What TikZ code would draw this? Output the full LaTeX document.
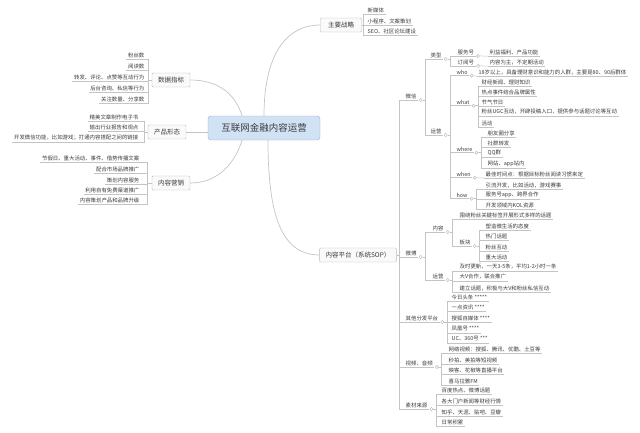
\documentclass[tikz,border=0pt]{standalone}
\usepackage{fontspec}
\setmainfont{Noto Sans CJK SC}
\usepackage{xcolor}
\usepackage{tikz}
\usetikzlibrary{shapes,arrows,positioning}

\definecolor{rootfill}{HTML}{D2E2F5}
\definecolor{rootline}{HTML}{93AED6}
\definecolor{wire}{HTML}{C4C4C4}
\definecolor{ink}{HTML}{3A3A3A}

\begin{document}
\begin{tikzpicture}[
    x=1pt, y=-1pt,
    root/.style={rectangle, draw=rootline, fill=rootfill, rounded corners=3pt, minimum width=112pt, minimum height=24pt, font=\fontsize{9.5}{11}\selectfont, text=ink},
    topic/.style={rectangle, draw=gray!55, fill=gray!4, rounded corners=1pt, minimum height=14pt, inner xsep=6pt, font=\fontsize{6.5}{8}\selectfont, text=ink},
    item/.style={inner xsep=1.5pt, inner ysep=1.3pt, font=\fontsize{5.4}{6}\selectfont, text=ink, append after command={(\tikzlastnode.south west) edge[uline] (\tikzlastnode.south east)}},
    ritem/.style={item, anchor=west},
    litem/.style={item, anchor=east},
    uline/.style={draw=wire, line width=0.5pt},
    knob/.style={circle, draw=gray!60, fill=white, inner sep=0pt, minimum size=3.2pt, line width=0.4pt},
    curve/.style={draw=wire, line width=0.7pt},
    branch/.style={draw=wire, line width=0.5pt}
]
    \useasboundingbox (0,0) rectangle (640,432);

    % Central topic
    \node[root] (root) at (264,128) {互联网金融内容运营};

    % Main strategy
    \node[topic, minimum width=41pt] (strat) at (341,25) {主要战略};
    \node[ritem] (s1) at (366,10) {新媒体};
    \node[ritem] (s2) at (366,21) {小程序、文案策划};
    \node[ritem] (s3) at (366,31) {SEO、社区论坛建设};

    % Data metrics
    \node[topic] (data) at (171,80) {数据指标};
    \node[litem] (d1) at (146,55) {粉丝数};
    \node[litem] (d2) at (146,66) {阅读数};
    \node[litem] (d3) at (146,77) {转发、评论、点赞等互动行为};
    \node[litem] (d4) at (146,88) {后台咨询、私信等行为};
    \node[litem] (d5) at (146,99) {关注数量、分享数};

    % Product form
    \node[topic] (prod) at (167,132) {产品形态};
    \node[litem] (p1) at (140,117) {精美文章制作电子书};
    \node[litem] (p2) at (140,127) {输出行业报告和观点};
    \node[litem] (p3) at (140,138) {开发微信功能，比如游戏；打通内容搭配之间的链接};

    % Content marketing
    \node[topic] (mkt) at (171,183) {内容营销};
    \node[litem] (m1) at (141,158) {节假日、重大活动、事件、借势传播文案};
    \node[litem] (m2) at (141,169) {配合市场品牌推广};
    \node[litem] (m3) at (141,180) {策划内容服务};
    \node[litem] (m4) at (141,190) {利用自有免费渠道推广};
    \node[litem] (m5) at (141,200) {内容策划产品和品牌升级};

    % Content platform
    \node[topic] (plat) at (358,255) {内容平台（系统SOP）};

    % WeChat
    \node[ritem] (wx) at (404,96) {微信};
    \node[knob] (kwx) at ([xshift=2.5pt]wx.south east) {};
    \node[ritem] (wxtype) at (429,55) {类型};
    \node[knob] (kwxtype) at ([xshift=2.5pt]wxtype.south east) {};
    \node[ritem] (wxsvc) at (456,52) {服务号};
    \node[knob] (kwxsvc) at ([xshift=2.5pt]wxsvc.south east) {};
    \node[ritem] (wxsvc1) at (488,52) {利益福利、产品功能};
    \node[ritem] (wxsub) at (456,62) {订阅号};
    \node[knob] (kwxsub) at ([xshift=2.5pt]wxsub.south east) {};
    \node[ritem] (wxsub1) at (488,62) {内容为主，不定期活动};
    \node[ritem] (wxops) at (429,131) {运营};
    \node[knob] (kwxops) at ([xshift=2.5pt]wxops.south east) {};
    \node[ritem] (who) at (455,72) {who};
    \node[knob] (kwho) at ([xshift=2.5pt]who.south east) {};
    \node[ritem] (who1) at (477,72) {18岁以上，具备理财意识和能力的人群，主要是80、90后群体};
    \node[ritem] (what) at (455,102) {what};
    \node[knob] (kwhat) at ([xshift=2.5pt]what.south east) {};
    \node[ritem] (what1) at (480,82) {财经新闻、理财知识};
    \node[ritem] (what2) at (480,92) {热点事件结合品牌属性};
    \node[ritem] (what3) at (480,102) {节气节日};
    \node[ritem] (what4) at (480,112) {粉丝UGC互动，开辟投稿入口，提供参与话题讨论等互动};
    \node[ritem] (what5) at (480,123) {活动};
    \node[ritem] (where) at (455,149) {where};
    \node[knob] (kwhere) at ([xshift=2.5pt]where.south east) {};
    \node[ritem] (where1) at (486,133) {朋友圈分享};
    \node[ritem] (where2) at (486,143) {社群转发};
    \node[ritem] (where3) at (486,153) {QQ群};
    \node[ritem] (where4) at (486,164) {网站、app站内};
    \node[ritem] (when) at (455,174) {when};
    \node[knob] (kwhen) at ([xshift=2.5pt]when.south east) {};
    \node[ritem] (when1) at (484,174) {最佳时间点：根据目标粉丝阅读习惯来定};
    \node[ritem] (how) at (455,195) {how};
    \node[knob] (khow) at ([xshift=2.5pt]how.south east) {};
    \node[ritem] (how1) at (484,185) {引流开发，比如活动，游戏赛事};
    \node[ritem] (how2) at (484,195) {服务号app、跨界合作};
    \node[ritem] (how3) at (484,205) {开发领域内KOL资源};

    % Weibo
    \node[ritem] (wb) at (404,253) {微博};
    \node[knob] (kwb) at ([xshift=2.5pt]wb.south east) {};
    \node[ritem] (wbcnt) at (431,228) {内容};
    \node[knob] (kwbcnt) at ([xshift=2.5pt]wbcnt.south east) {};
    \node[ritem] (wbcnt1) at (458,215) {围绕粉丝关键标签开展形式多样的话题};
    \node[ritem] (wbsec) at (458,242) {板块};
    \node[knob] (kwbsec) at ([xshift=2.5pt]wbsec.south east) {};
    \node[ritem] (wbsec1) at (484,226) {塑造微生活的态度};
    \node[ritem] (wbsec2) at (484,236) {热门话题};
    \node[ritem] (wbsec3) at (484,247) {粉丝互动};
    \node[ritem] (wbsec4) at (484,257) {重大活动};
    \node[ritem] (wbops) at (431,276) {运营};
    \node[knob] (kwbops) at ([xshift=2.5pt]wbops.south east) {};
    \node[ritem] (wbops1) at (458,267) {及时更新，一天3-5条，平均1-2小时一条};
    \node[ritem] (wbops2) at (458,277) {大V合作，联合推广};
    \node[ritem] (wbops3) at (458,288) {建立话题，积极与大V和粉丝私信互动};

    % Other channels
    \node[ritem] (oth) at (404,318) {其他分发平台};
    \node[knob] (koth) at ([xshift=2.5pt]oth.south east) {};
    \node[ritem] (oth1) at (450,297) {今日头条 *****};
    \node[ritem] (oth2) at (450,307) {一点资讯 ****};
    \node[ritem] (oth3) at (450,318) {搜狐自媒体 ****};
    \node[ritem] (oth4) at (450,329) {凤凰号 ****};
    \node[ritem] (oth5) at (450,339) {UC、360号 ***};

    % Video and audio
    \node[ritem] (vid) at (404,363) {视频、音频};
    \node[knob] (kvid) at ([xshift=2.5pt]vid.south east) {};
    \node[ritem] (vid1) at (447,349) {网络视频：搜狐、腾讯、优酷、土豆等};
    \node[ritem] (vid2) at (447,360) {秒拍、美拍等短视频};
    \node[ritem] (vid3) at (447,370) {映客、花椒等直播平台};
    \node[ritem] (vid4) at (447,381) {喜马拉雅FM};

    % Material sources
    \node[ritem] (src) at (404,405) {素材来源};
    \node[knob] (ksrc) at ([xshift=2.5pt]src.south east) {};
    \node[ritem] (src1) at (440,390) {百度热点、微博话题};
    \node[ritem] (src2) at (440,401) {各大门户新闻等财经行情};
    \node[ritem] (src3) at (440,412) {知乎、天涯、贴吧、豆瓣};
    \node[ritem] (src4) at (440,422) {日常积累};

    % Curves from the centre
    \draw[curve] (root.north) .. controls +(0,-60) and +(-35,0) .. (strat.west);
    \draw[curve] ([xshift=4pt]root.south) .. controls +(0,70) and +(-40,0) .. (plat.west);
    \draw[curve] ([xshift=-22pt]root.north) .. controls +(-6,-20) and +(30,0) .. (data.east);
    \draw[curve] (prod.east) -- (root.west |- prod.east);
    \draw[curve] ([xshift=-22pt]root.south) .. controls +(-6,20) and +(30,0) .. (mkt.east);

    % Branches, left side
    \draw[branch] (data.west) -- ++(-4,0) |- (d1.south east)
                  (data.west) -- ++(-4,0) |- (d2.south east)
                  (data.west) -- ++(-4,0) |- (d3.south east)
                  (data.west) -- ++(-4,0) |- (d4.south east)
                  (data.west) -- ++(-4,0) |- (d5.south east);
    \draw[branch] (prod.west) -- ++(-4,0) |- (p1.south east)
                  (prod.west) -- ++(-4,0) |- (p2.south east)
                  (prod.west) -- ++(-4,0) |- (p3.south east);
    \draw[branch] (mkt.west) -- ++(-5,0) |- (m1.south east)
                  (mkt.west) -- ++(-5,0) |- (m2.south east)
                  (mkt.west) -- ++(-5,0) |- (m3.south east)
                  (mkt.west) -- ++(-5,0) |- (m4.south east)
                  (mkt.west) -- ++(-5,0) |- (m5.south east);

    % Branches, right side
    \draw[branch] (strat.east) -- ++(2,0) |- (s1.south west)
                  (strat.east) -- ++(2,0) |- (s2.south west)
                  (strat.east) -- ++(2,0) |- (s3.south west);
    \draw[branch] (plat.east) -- ++(3,0) |- (wx.south west)
                  (plat.east) -- ++(3,0) |- (wb.south west)
                  (plat.east) -- ++(3,0) |- (oth.south west)
                  (plat.east) -- ++(3,0) |- (vid.south west)
                  (plat.east) -- ++(3,0) |- (src.south west);
    \draw[branch] (kwx.east) -- ++(3,0) |- (wxtype.south west)
                  (kwx.east) -- ++(3,0) |- (wxops.south west);
    \draw[branch] (kwxtype.east) -- ++(3,0) |- (wxsvc.south west)
                  (kwxtype.east) -- ++(3,0) |- (wxsub.south west);
    \draw[branch] (kwxsvc.east) -- (wxsvc1.south west);
    \draw[branch] (kwxsub.east) -- (wxsub1.south west);
    \draw[branch] (kwxops.east) -- ++(3,0) |- (who.south west)
                  (kwxops.east) -- ++(3,0) |- (what.south west)
                  (kwxops.east) -- ++(3,0) |- (where.south west)
                  (kwxops.east) -- ++(3,0) |- (when.south west)
                  (kwxops.east) -- ++(3,0) |- (how.south west);
    \draw[branch] (kwho.east) -- (who1.south west);
    \draw[branch] (kwhat.east) -- ++(3,0) |- (what1.south west)
                  (kwhat.east) -- ++(3,0) |- (what2.south west)
                  (kwhat.east) -- ++(3,0) |- (what3.south west)
                  (kwhat.east) -- ++(3,0) |- (what4.south west)
                  (kwhat.east) -- ++(3,0) |- (what5.south west);
    \draw[branch] (kwhere.east) -- ++(3,0) |- (where1.south west)
                  (kwhere.east) -- ++(3,0) |- (where2.south west)
                  (kwhere.east) -- ++(3,0) |- (where3.south west)
                  (kwhere.east) -- ++(3,0) |- (where4.south west);
    \draw[branch] (kwhen.east) -- (when1.south west);
    \draw[branch] (khow.east) -- ++(3,0) |- (how1.south west)
                  (khow.east) -- ++(3,0) |- (how2.south west)
                  (khow.east) -- ++(3,0) |- (how3.south west);
    \draw[branch] (kwb.east) -- ++(3,0) |- (wbcnt.south west)
                  (kwb.east) -- ++(3,0) |- (wbops.south west);
    \draw[branch] (kwbcnt.east) -- ++(3,0) |- (wbcnt1.south west)
                  (kwbcnt.east) -- ++(3,0) |- (wbsec.south west);
    \draw[branch] (kwbsec.east) -- ++(3,0) |- (wbsec1.south west)
                  (kwbsec.east) -- ++(3,0) |- (wbsec2.south west)
                  (kwbsec.east) -- ++(3,0) |- (wbsec3.south west)
                  (kwbsec.east) -- ++(3,0) |- (wbsec4.south west);
    \draw[branch] (kwbops.east) -- ++(3,0) |- (wbops1.south west)
                  (kwbops.east) -- ++(3,0) |- (wbops2.south west)
                  (kwbops.east) -- ++(3,0) |- (wbops3.south west);
    \draw[branch] (koth.east) -- ++(3,0) |- (oth1.south west)
                  (koth.east) -- ++(3,0) |- (oth2.south west)
                  (koth.east) -- ++(3,0) |- (oth3.south west)
                  (koth.east) -- ++(3,0) |- (oth4.south west)
                  (koth.east) -- ++(3,0) |- (oth5.south west);
    \draw[branch] (kvid.east) -- ++(3,0) |- (vid1.south west)
                  (kvid.east) -- ++(3,0) |- (vid2.south west)
                  (kvid.east) -- ++(3,0) |- (vid3.south west)
                  (kvid.east) -- ++(3,0) |- (vid4.south west);
    \draw[branch] (ksrc.east) -- ++(3,0) |- (src1.south west)
                  (ksrc.east) -- ++(3,0) |- (src2.south west)
                  (ksrc.east) -- ++(3,0) |- (src3.south west)
                  (ksrc.east) -- ++(3,0) |- (src4.south west);
\end{tikzpicture}
\end{document}
